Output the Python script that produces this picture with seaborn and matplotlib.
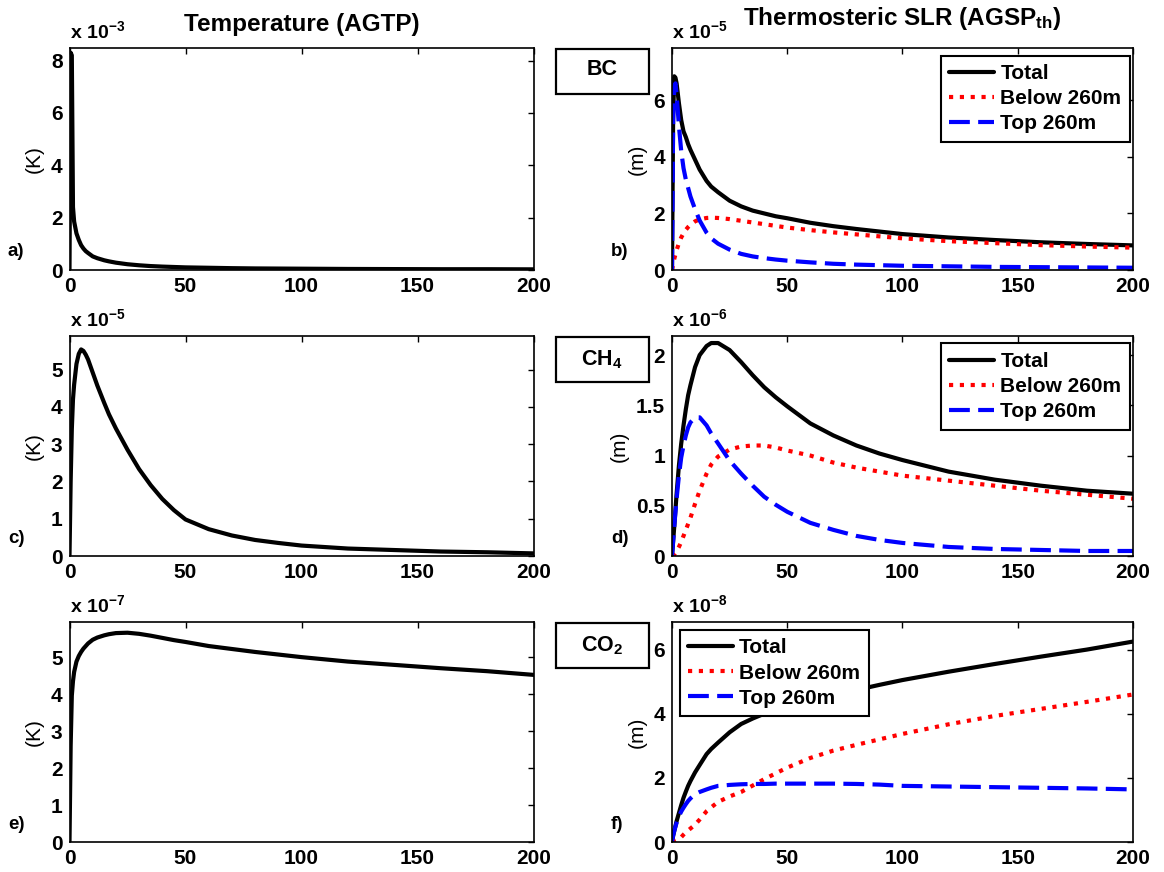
import numpy as np
import pandas as pd
import matplotlib
matplotlib.use("Agg")
import matplotlib.pyplot as plt
import seaborn as sns
from matplotlib.patches import Rectangle
from matplotlib.ticker import FuncFormatter

# ---------------- data (values in the axis' scaled units) ----------------
YEARS = [0, 0.5, 1, 1.5, 2, 3, 4, 5, 6, 7, 8, 10, 12, 15, 17, 20, 25, 30, 35,
         40, 45, 50, 60, 70, 80, 90, 100, 120, 140, 160, 180, 200]

# a) AGTP BC  (x 1e-3 K)
AGTP_BC = [0, 8.3, 8.2, 2.4, 1.85, 1.4, 1.15, 0.95, 0.82, 0.72, 0.65, 0.52,
           0.45, 0.37, 0.33, 0.28, 0.22, 0.18, 0.15, 0.13, 0.115, 0.10, 0.085,
           0.07, 0.06, 0.055, 0.05, 0.04, 0.035, 0.03, 0.03, 0.025]

# b) AGSP_th BC  (x 1e-5 m)
BC_TOTAL = [0, 5.5, 6.85, 6.8, 6.6, 5.9, 5.3, 4.9, 4.7, 4.45, 4.25, 3.9, 3.55,
            3.15, 2.95, 2.75, 2.45, 2.25, 2.1, 2.0, 1.9, 1.83, 1.67, 1.55,
            1.45, 1.36, 1.27, 1.15, 1.06, 0.98, 0.92, 0.87]
BC_BELOW = [0, 0.2, 0.4, 0.55, 0.7, 0.95, 1.15, 1.3, 1.42, 1.52, 1.6, 1.72,
            1.79, 1.84, 1.85, 1.84, 1.8, 1.74, 1.68, 1.62, 1.56, 1.5, 1.41,
            1.33, 1.26, 1.19, 1.12, 1.02, 0.95, 0.88, 0.83, 0.79]
BC_TOP = [0, 5.3, 6.5, 6.6, 6.2, 5.1, 4.2, 3.6, 3.2, 2.9, 2.6, 2.15, 1.75,
          1.32, 1.12, 0.93, 0.72, 0.57, 0.48, 0.42, 0.37, 0.33, 0.27, 0.22,
          0.19, 0.17, 0.15, 0.13, 0.11, 0.10, 0.09, 0.08]

# c) AGTP CH4  (x 1e-5 K)
AGTP_CH4 = [0, 2.0, 3.4, 4.2, 4.6, 5.15, 5.42, 5.54, 5.5, 5.4, 5.27, 4.92,
            4.57, 4.1, 3.8, 3.42, 2.85, 2.33, 1.9, 1.53, 1.23, 0.98, 0.72,
            0.55, 0.43, 0.35, 0.28, 0.2, 0.16, 0.12, 0.1, 0.07]

# d) AGSP_th CH4  (x 1e-6 m)
CH4_TOTAL = [0, 0.15, 0.3, 0.46, 0.62, 0.9, 1.12, 1.3, 1.46, 1.6, 1.7, 1.88,
             2.0, 2.09, 2.12, 2.12, 2.05, 1.93, 1.8, 1.68, 1.58, 1.49, 1.32,
             1.2, 1.1, 1.02, 0.955, 0.84, 0.76, 0.7, 0.65, 0.62]
CH4_BELOW = [0, 0.005, 0.015, 0.03, 0.05, 0.09, 0.14, 0.2, 0.26, 0.32, 0.38,
             0.52, 0.65, 0.82, 0.91, 0.99, 1.06, 1.09, 1.1, 1.1, 1.08, 1.05,
             1.0, 0.93, 0.88, 0.84, 0.8, 0.75, 0.7, 0.65, 0.61, 0.57]
CH4_TOP = [0, 0.15, 0.3, 0.44, 0.57, 0.8, 0.98, 1.1, 1.2, 1.28, 1.33, 1.38,
           1.38, 1.3, 1.22, 1.12, 0.95, 0.82, 0.7, 0.59, 0.51, 0.44, 0.33,
           0.26, 0.2, 0.16, 0.13, 0.09, 0.07, 0.06, 0.05, 0.05]

# e) AGTP CO2  (x 1e-7 K)
AGTP_CO2 = [0, 2.6, 3.96, 4.35, 4.6, 4.88, 5.03, 5.14, 5.23, 5.3, 5.37, 5.47,
            5.53, 5.59, 5.62, 5.65, 5.66, 5.63, 5.58, 5.52, 5.46, 5.41, 5.3,
            5.22, 5.14, 5.07, 5.0, 4.88, 4.79, 4.7, 4.62, 4.52]

# f) AGSP_th CO2  (x 1e-8 m)
CO2_TOTAL = [0, 0.2, 0.35, 0.5, 0.65, 0.9, 1.15, 1.38, 1.57, 1.75, 1.9, 2.17,
             2.4, 2.74, 2.9, 3.1, 3.42, 3.68, 3.85, 4.0, 4.1, 4.2, 4.4, 4.58,
             4.74, 4.9, 5.05, 5.31, 5.55, 5.78, 6.0, 6.25]
CO2_BELOW = [0, 0.01, 0.02, 0.035, 0.05, 0.09, 0.15, 0.23, 0.3, 0.36, 0.42,
             0.54, 0.7, 0.96, 1.08, 1.25, 1.42, 1.56, 1.76, 1.96, 2.14, 2.32,
             2.62, 2.85, 3.03, 3.2, 3.37, 3.67, 3.93, 4.15, 4.37, 4.6]
CO2_TOP = [0, 0.2, 0.35, 0.48, 0.6, 0.8, 0.95, 1.07, 1.18, 1.28, 1.36, 1.49,
           1.56, 1.64, 1.69, 1.75, 1.78, 1.8, 1.81, 1.81, 1.82, 1.82, 1.82,
           1.82, 1.81, 1.79, 1.75, 1.73, 1.71, 1.69, 1.67, 1.64]

SERIES_NAMES = ["Total", "Below 260m", "Top 260m"]
SPECIES = ["BC", r"$\mathbf{CH_4}$", r"$\mathbf{CO_2}$"]
EXPONENTS_LEFT = [-3, -5, -7]
EXPONENTS_RIGHT = [-5, -6, -8]
YLIM_LEFT = [8.48, 5.9, 5.95]
YLIM_RIGHT = [7.85, 2.19, 6.86]
YTICKS_LEFT = [[0, 2, 4, 6, 8], [0, 1, 2, 3, 4, 5], [0, 1, 2, 3, 4, 5]]
YTICKS_RIGHT = [[0, 2, 4, 6], [0, 0.5, 1, 1.5, 2], [0, 2, 4, 6]]
LETTERS_LEFT = ["a)", "c)", "e)"]
LETTERS_RIGHT = ["b)", "d)", "f)"]
XTICKS = [0, 50, 100, 150, 200]

# ---------------- style ----------------
sns.set_theme(style="white")
plt.rcParams["font.family"] = ["Liberation Sans", "DejaVu Sans"]
plt.rcParams["mathtext.fontset"] = "custom"
plt.rcParams["mathtext.rm"] = "Liberation Sans:bold"
plt.rcParams["mathtext.bf"] = "Liberation Sans:bold"
plt.rcParams["mathtext.it"] = "Liberation Sans:bold"
plt.rcParams["mathtext.default"] = "bf"
for k in ["text.color", "axes.labelcolor", "xtick.color", "ytick.color",
          "axes.edgecolor"]:
    plt.rcParams[k] = "black"

W, H = 1164, 872
fig = plt.figure(figsize=(W / 100, H / 100), dpi=100)
fig.patch.set_facecolor("white")


def fx(px):
    return px / W


def fy(py):
    return 1 - py / H


COL_L = [(69.5, 533.5), (672, 1133)]
ROWS = [(48, 270), (336, 556), (622, 842)]

LINE_STYLES = [
    dict(color="black", lw=3.0, linestyle="-"),
    dict(color="#ff0000", lw=3.0, linestyle=(0, (1, 1.6))),
    dict(color="#0000ff", lw=3.0, linestyle=(0, (5, 2))),
]

left_data = [AGTP_BC, AGTP_CH4, AGTP_CO2]
right_data = [[BC_TOTAL, BC_BELOW, BC_TOP],
              [CH4_TOTAL, CH4_BELOW, CH4_TOP],
              [CO2_TOTAL, CO2_BELOW, CO2_TOP]]

fmt = FuncFormatter(lambda v, p: f"{v:g}")


def style_axes(ax, ymax, yticks, exponent):
    ax.set_xlim(0, 200)
    ax.set_ylim(0, ymax)
    ax.set_xticks(XTICKS)
    ax.set_yticks(yticks)
    ax.yaxis.set_major_formatter(fmt)
    ax.xaxis.set_major_formatter(fmt)
    ax.tick_params(direction="in", length=4, width=1, top=True, right=True,
                   labelsize=15, colors="black", pad=5)
    for lab in ax.get_xticklabels() + ax.get_yticklabels():
        lab.set_fontweight("bold")
    for s in ax.spines.values():
        s.set_visible(True)
        s.set_color("black")
        s.set_linewidth(1.2)
    ax.set_xlabel("")
    ax.text(0.0, 1.025, "x 10$^{%d}$" % exponent, transform=ax.transAxes,
            ha="left", va="bottom", fontsize=14, fontweight="bold")
    ax.grid(False)


for r, (top, bot) in enumerate(ROWS):
    # ----- left: temperature -----
    l, rr = COL_L[0]
    axL = fig.add_axes([fx(l), fy(bot), (rr - l) / W, (bot - top) / H])
    df = pd.DataFrame({"year": YEARS, "value": left_data[r]})
    sns.lineplot(data=df, x="year", y="value", ax=axL, color="black", lw=3.0)
    style_axes(axL, YLIM_LEFT[r], YTICKS_LEFT[r], EXPONENTS_LEFT[r])
    axL.set_ylabel("(K)", fontsize=15, labelpad=5)
    fig.text(fx(8), fy(ROWS[r][1] - 18), LETTERS_LEFT[r], ha="left",
             va="center", fontsize=13.5, fontweight="bold")

    # ----- right: thermosteric SLR -----
    l, rr = COL_L[1]
    axR = fig.add_axes([fx(l), fy(bot), (rr - l) / W, (bot - top) / H])
    for name, vals, st in zip(SERIES_NAMES, right_data[r], LINE_STYLES):
        d = pd.DataFrame({"year": YEARS, "value": vals})
        sns.lineplot(data=d, x="year", y="value", ax=axR, label=name,
                     dash_capstyle="butt", **st)
    style_axes(axR, YLIM_RIGHT[r], YTICKS_RIGHT[r], EXPONENTS_RIGHT[r])
    axR.set_ylabel("(m)", fontsize=15, labelpad=5)
    fig.text(fx(611), fy(ROWS[r][1] - 18), LETTERS_RIGHT[r], ha="left",
             va="center", fontsize=13.5, fontweight="bold")

    if r < 2:
        loc, anchor = "upper right", (0.993, 0.966)
    else:
        loc, anchor = "upper left", (0.017, 0.964)
    leg = axR.legend(loc=loc, bbox_to_anchor=anchor, borderaxespad=0,
                     prop={"weight": "bold", "size": 15},
                     handlelength=2.15, handletextpad=0.3, labelspacing=0.3,
                     borderpad=0.4, fancybox=False, framealpha=1,
                     edgecolor="black")
    leg.get_frame().set_linewidth(1.5)
    for t in leg.get_texts():
        t.set_color("black")

    # ----- species box -----
    btop = top + 1
    rect = Rectangle((fx(556), fy(btop + 45)), 93 / W, 45 / H,
                     transform=fig.transFigure, fill=False, lw=1.6,
                     ec="black")
    fig.add_artist(rect)
    fig.text(fx(602), fy(btop + 22.5 - (2 if r == 0 else 0)), SPECIES[r],
             ha="center", va="center", fontsize=15.5, fontweight="bold")

# ----- column titles -----
fig.text(fx(301.5), fy(24), "Temperature (AGTP)", ha="center", va="center",
         fontsize=17.5, fontweight="bold")
fig.text(fx(902), fy(19), r"Thermosteric SLR (AGSP$_{\mathbf{th}}$)",
         ha="center", va="center", fontsize=17.5, fontweight="bold")

fig.savefig("out.png", dpi=100, facecolor="white")
